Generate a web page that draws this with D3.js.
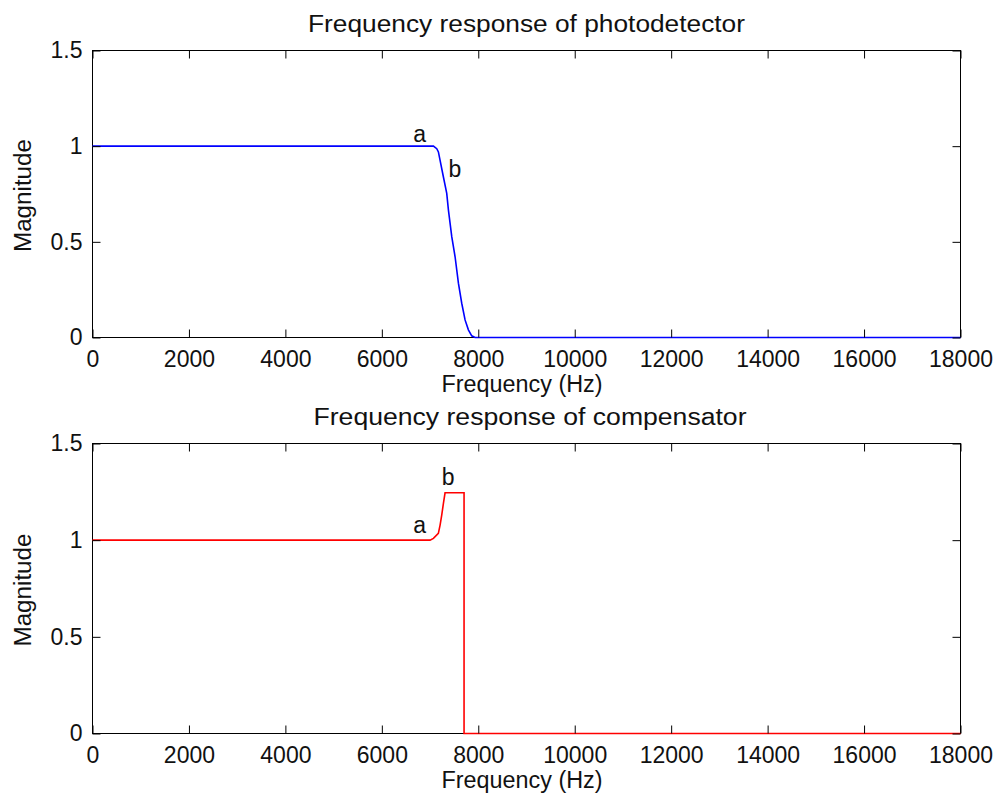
<!DOCTYPE html>
<html>
<head>
<meta charset="utf-8">
<script src="https://cdn.jsdelivr.net/npm/d3@7"></script>
<style>
  html, body { margin: 0; padding: 0; background: #fff; }
  svg { display: block; }
  text { font-family: "Liberation Sans", Arial, sans-serif; fill: #111; }
</style>
</head>
<body>
<svg id="chart" width="1001" height="802"></svg>
<script>
// Photodetector magnitude response (Hz, magnitude)
const pdFreq = [0, 1000, 2000, 3000, 4000, 5000, 6000, 7000, 7070, 7139, 7173, 7208, 7277, 7346,
                7381, 7450, 7519, 7588, 7657, 7726, 7795, 7864, 7933, 8000, 10000, 12000, 14000, 16000, 18000];
const pdMag  = [1, 1, 1, 1, 1, 1, 1, 1, 1.0, 0.987, 0.97, 0.926, 0.839, 0.753,
                0.666, 0.527, 0.422, 0.284, 0.179, 0.092, 0.04, 0.009, 0, 0, 0, 0, 0, 0, 0];

// Compensator magnitude response (Hz, magnitude)
const cmpFreq = [0, 1000, 2000, 3000, 4000, 5000, 6000, 7000, 7070, 7172, 7208, 7242, 7277, 7311,
                 7705, 7705, 8000, 10000, 12000, 14000, 16000, 18000];
const cmpMag  = [1, 1, 1, 1, 1, 1, 1, 1, 1.009, 1.035, 1.078, 1.13, 1.19, 1.245,
                 1.245, 0, 0, 0, 0, 0, 0, 0];

// Annotation letters (text, Hz, magnitude at baseline)
const pdNotes  = [["a", 6650, 1.02], ["b", 7380, 0.839]];
const cmpNotes = [["a", 6653, 1.036], ["b", 7243, 1.285]];

// Tick values
const xTicks = [0, 2000, 4000, 6000, 8000, 10000, 12000, 14000, 16000, 18000];
const yTicks = [0, 0.5, 1, 1.5];

const svg = d3.select("#chart");
svg.append("rect").attr("width", 1001).attr("height", 802).attr("fill", "#fff");

function panel(cfg) {
  const x = d3.scaleLinear().domain([0, 18000]).range([92.5, 960.5]);
  const y = d3.scaleLinear().domain([0, 1.5]).range([cfg.bottom, cfg.top]);
  const g = svg.append("g");

  // frame
  g.append("rect")
    .attr("x", x.range()[0]).attr("y", cfg.top)
    .attr("width", x.range()[1] - x.range()[0])
    .attr("height", cfg.bottom - cfg.top)
    .attr("fill", "#fff").attr("stroke", "#000").attr("stroke-width", 1);

  // response curve
  const line = d3.line().x(d => x(d[0])).y(d => y(d[1]));
  g.append("path")
    .datum(cfg.freq.map((f, i) => [f, cfg.mag[i]]))
    .attr("d", line)
    .attr("fill", "none")
    .attr("stroke", cfg.color)
    .attr("stroke-width", 1.6)
    .attr("stroke-linejoin", "miter");

  // axes with inward ticks on all four sides
  const styleAxis = sel => {
    sel.select(".domain").remove();
    sel.selectAll(".tick line").attr("stroke", "#000").attr("stroke-width", 1);
    sel.selectAll(".tick text")
      .style("font-family", "'Liberation Sans', Arial, sans-serif")
      .style("font-size", "23px")
      .attr("fill", "#111");
  };
  g.append("g").attr("transform", `translate(0,${cfg.bottom})`)
    .call(d3.axisBottom(x).tickValues(xTicks).tickFormat(d3.format("d"))
      .tickSizeInner(-8).tickSizeOuter(0).tickPadding(13))
    .call(styleAxis);
  g.append("g").attr("transform", `translate(0,${cfg.top})`)
    .call(d3.axisTop(x).tickValues(xTicks).tickFormat("")
      .tickSizeInner(-8).tickSizeOuter(0))
    .call(styleAxis);
  g.append("g").attr("transform", `translate(${x.range()[0]},0)`)
    .call(d3.axisLeft(y).tickValues(yTicks).tickFormat(d => String(d))
      .tickSizeInner(-8).tickSizeOuter(0).tickPadding(10))
    .call(styleAxis);
  g.append("g").attr("transform", `translate(${x.range()[1]},0)`)
    .call(d3.axisRight(y).tickValues(yTicks).tickFormat("")
      .tickSizeInner(-8).tickSizeOuter(0))
    .call(styleAxis);

  // annotation letters
  g.selectAll("text.note").data(cfg.notes).join("text")
    .attr("class", "note")
    .attr("x", d => x(d[1]))
    .attr("y", d => y(d[2]))
    .attr("font-size", 23)
    .text(d => d[0]);

  const cx = (x.range()[0] + x.range()[1]) / 2;
  const cy = (cfg.top + cfg.bottom) / 2;

  // title
  g.append("text")
    .attr("x", cfg.titleX).attr("y", cfg.top - 18.5)
    .attr("text-anchor", "middle")
    .attr("font-size", 23)
    .attr("textLength", cfg.titleLen).attr("lengthAdjust", "spacingAndGlyphs")
    .text(cfg.title);

  // x label
  g.append("text")
    .attr("x", 522).attr("y", cfg.bottom + 54)
    .attr("text-anchor", "middle")
    .attr("font-size", 23)
    .attr("textLength", 161).attr("lengthAdjust", "spacingAndGlyphs")
    .text("Frequency (Hz)");

  // y label
  g.append("text")
    .attr("transform", `translate(31,${cy + 1.5}) rotate(-90)`)
    .attr("text-anchor", "middle")
    .attr("font-size", 23)
    .attr("textLength", 113).attr("lengthAdjust", "spacingAndGlyphs")
    .text("Magnitude");
}

panel({
  top: 50.5, bottom: 337.5, color: "#0000ff",
  freq: pdFreq, mag: pdMag, notes: pdNotes,
  title: "Frequency response of photodetector", titleX: 526.5, titleLen: 437
});
panel({
  top: 443.5, bottom: 733.5, color: "#ff0000",
  freq: cmpFreq, mag: cmpMag, notes: cmpNotes,
  title: "Frequency response of compensator", titleX: 530, titleLen: 433
});
</script>
</body>
</html>
